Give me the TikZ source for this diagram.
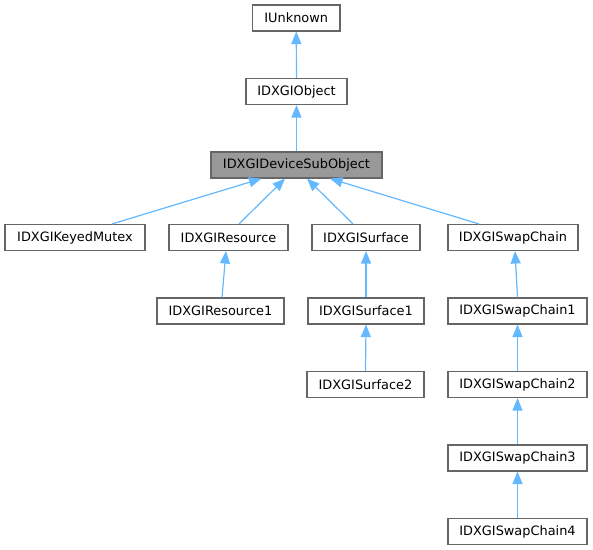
\documentclass[tikz,border=0pt]{standalone}
\usepackage{fontspec}
\setmainfont{DejaVu Sans}
\usepackage{tikz}
\usetikzlibrary{arrows.meta}
\definecolor{edgeblue}{HTML}{63B8FF}
\definecolor{boxgray}{HTML}{666666}
\definecolor{curfill}{HTML}{999999}

\begin{document}
\begin{tikzpicture}[x=1pt,y=-1pt,
  cls/.style={draw=boxgray,line width=1.1pt,fill=white,minimum height=26pt,inner sep=0pt,font=\fontsize{12.9}{15}\selectfont},
  cur/.style={cls,fill=curfill},
  inh/.style={draw=edgeblue,line width=1.2pt,-{Triangle[length=12.5pt,width=10pt]}}]
\useasboundingbox (0,0) rectangle (593,549);

\node [cls,minimum width=87.5pt] (unk) at (296.25,18) {IUnknown};
\node [cls,minimum width=101pt] (obj) at (296.5,91.5) {IDXGIObject};
\node [cur,minimum width=171pt] (dso) at (296.5,165) {IDXGIDeviceSubObject};

\node [cls,minimum width=140pt] (mtx) at (75,237.5) {IDXGIKeyedMutex};
\node [cls,minimum width=119pt] (res) at (228.5,237.5) {IDXGIResource};
\node [cls,minimum width=108pt] (srf) at (366,237.5) {IDXGISurface};
\node [cls,minimum width=130pt] (swp) at (513,237.5) {IDXGISwapChain};

\node [cls,minimum width=127pt] (res1) at (220.5,311) {IDXGIResource1};
\node [cls,minimum width=116pt] (srf1) at (366,311) {IDXGISurface1};
\node [cls,minimum width=139pt] (swp1) at (517.5,311) {IDXGISwapChain1};

\node [cls,minimum width=117pt] (srf2) at (365.5,384.5) {IDXGISurface2};
\node [cls,minimum width=139pt] (swp2) at (517.5,384.5) {IDXGISwapChain2};
\node [cls,minimum width=139pt] (swp3) at (517.5,458) {IDXGISwapChain3};
\node [cls,minimum width=139pt] (swp4) at (517.5,531.5) {IDXGISwapChain4};

\draw [inh] (obj.north) -- (unk.south);
\draw [inh] (dso.north) -- (obj.south);
\draw [inh] ([xshift=37pt]mtx.north) -- ([xshift=-35pt]dso.south);
\draw [inh] ([xshift=10.5pt]res.north) -- ([xshift=-11.5pt]dso.south);
\draw [inh] ([xshift=-13pt]srf.north) -- ([xshift=10.5pt]dso.south);
\draw [inh] ([xshift=-34pt]swp.north) -- ([xshift=33.5pt]dso.south);
\draw [inh] ([xshift=1.5pt]res1.north) -- ([xshift=-2.5pt]res.south);
\draw [inh] (srf1.north) -- (srf.south);
\draw [inh] (srf2.north) -- (srf1.south);
\draw [inh] (swp1.north) -- ([xshift=2pt]swp.south);
\draw [inh] (swp2.north) -- (swp1.south);
\draw [inh] (swp3.north) -- (swp2.south);
\draw [inh] (swp4.north) -- (swp3.south);
\end{tikzpicture}
\end{document}
